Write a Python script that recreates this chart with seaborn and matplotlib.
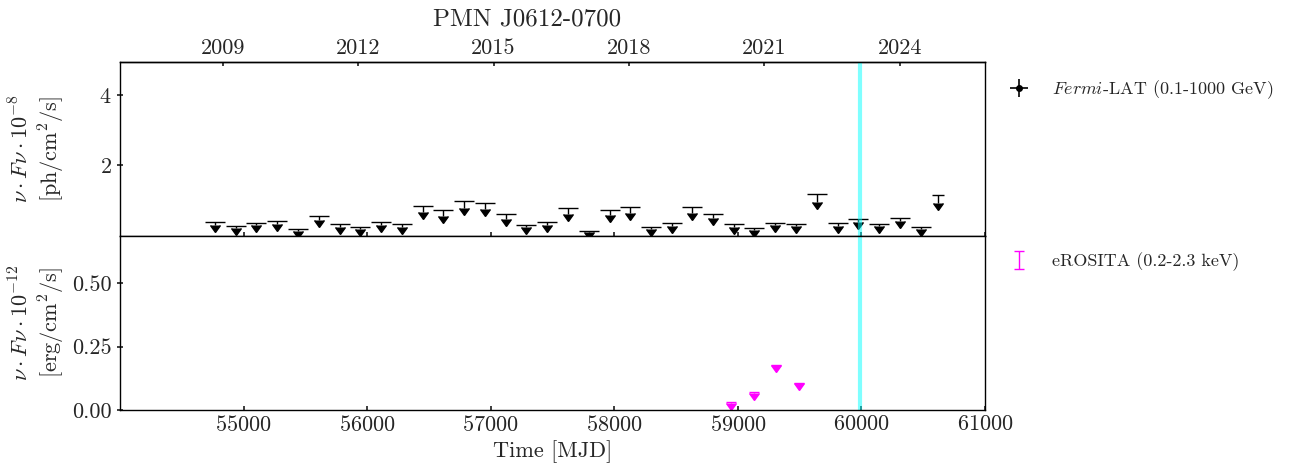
import numpy as np
import pandas as pd
import matplotlib
matplotlib.use('Agg')
import matplotlib.pyplot as plt
import seaborn as sns

# Fermi-LAT upper limits (bin centres in MJD, UL in 1e-8 ph/cm2/s)
fermi_mjd = [54769, 54937, 55104, 55271, 55443, 55611, 55779, 55945, 56115,
             56283, 56450, 56615, 56785, 56952, 57122, 57289, 57456, 57624,
             57799, 57964, 58128, 58298, 58466, 58632, 58800, 58967, 59134,
             59304, 59472, 59639, 59809, 59976, 60143, 60311, 60481, 60618]
fermi_ul = [0.385, 0.289, 0.374, 0.414, 0.187, 0.555, 0.329, 0.244, 0.385,
            0.329, 0.839, 0.725, 0.980, 0.941, 0.612, 0.317, 0.385, 0.790,
            0.147, 0.742, 0.827, 0.261, 0.357, 0.827, 0.629, 0.329, 0.224,
            0.374, 0.346, 1.187, 0.357, 0.487, 0.337, 0.516, 0.261, 1.159]
fermi_halfbin = [81] * 35 + [50]

# eROSITA upper limits (1e-12 erg/cm2/s)
erosita_mjd = [58945, 59134, 59310, 59494]
erosita_ul = [0.030, 0.070, 0.179, 0.108]

# neutrino / alert time
alert_mjd = 59986

year_ticks = [2009, 2012, 2015, 2018, 2021, 2024]

fermi = pd.DataFrame({'mjd': fermi_mjd, 'ul': fermi_ul, 'dx': fermi_halfbin})
ero = pd.DataFrame({'mjd': erosita_mjd, 'ul': erosita_ul})

sns.set_theme(style='ticks')
plt.rcParams.update({
    'font.family': 'serif',
    'font.serif': ['cmr10'],
    'mathtext.fontset': 'cm',
    'axes.unicode_minus': False,
    'axes.formatter.use_mathtext': True,
    'axes.edgecolor': 'black',
    'axes.linewidth': 1.0,
    'lines.markersize': 7,
})

fig, (ax1, ax2) = plt.subplots(2, 1, sharex=True, figsize=(12.95, 4.72), dpi=100)
fig.subplots_adjust(left=0.0927, right=0.7606, top=0.8686, bottom=0.1314, hspace=0)

# top panel: Fermi-LAT
ax1.errorbar(fermi['mjd'], fermi['ul'], xerr=fermi['dx'], yerr=0.2 * fermi['ul'],
             uplims=True, fmt='none', color='black', elinewidth=1.0, capsize=0)
ax1.errorbar([], [], xerr=[], yerr=[], fmt='.', color='black', ms=8, elinewidth=1.2,
             label=r'$Fermi$-LAT (0.1-1000 GeV)')
ax1.axvline(alert_mjd, color='cyan', alpha=0.5, lw=3)
ax1.set_ylim(0, 4.93)
ax1.set_yticks([2, 4])
ax1.set_ylabel('$\\nu \\cdot F\\nu \\cdot 10^{-8}$\n[ph/cm$^2$/s]', fontsize=16)
ax1.legend(loc='upper left', bbox_to_anchor=(1.0, 1.0), frameon=False, fontsize=13)
ax1.set_title('PMN J0612-0700', fontsize=18, pad=9, x=0.471)

secax = ax1.secondary_xaxis('top', functions=(lambda m: 2000 + (m - 51544.5) / 365.25,
                                              lambda y: 51544.5 + (y - 2000) * 365.25))
secax.set_xticks(year_ticks)
secax.set_xticklabels([str(y) for y in year_ticks])
secax.tick_params(direction='in', length=3, labelsize=16, pad=3)

# bottom panel: eROSITA
ax2.errorbar(ero['mjd'], ero['ul'], yerr=0.002, uplims=True, fmt='none',
             color='magenta', elinewidth=1.0, capsize=3.5, label='eROSITA (0.2-2.3 keV)')
ax2.axvline(alert_mjd, color='cyan', alpha=0.5, lw=3)
ax2.set_ylim(0, 0.687)
ax2.set_yticks([0.0, 0.25, 0.5])
ax2.set_yticklabels(['0.00', '0.25', '0.50'])
ax2.set_ylabel('$\\nu \\cdot F\\nu \\cdot 10^{-12}$\n[erg/cm$^2$/s]', fontsize=16)
ax2.legend(loc='upper left', bbox_to_anchor=(1.0, 1.0), frameon=False, fontsize=13)

ax2.set_xlim(54000, 61000)
ax2.set_xticks([55000, 56000, 57000, 58000, 59000, 60000, 61000])
ax2.set_xlabel('Time [MJD]', fontsize=16, labelpad=4)

for ax in (ax1, ax2):
    ax.tick_params(axis='x', direction='in', length=3, labelsize=16)
    ax.tick_params(axis='y', direction='inout', length=5, labelsize=16)
    ax.yaxis.set_label_coords(-0.0615, 0.5)

fig.savefig('out.png', dpi=100)
